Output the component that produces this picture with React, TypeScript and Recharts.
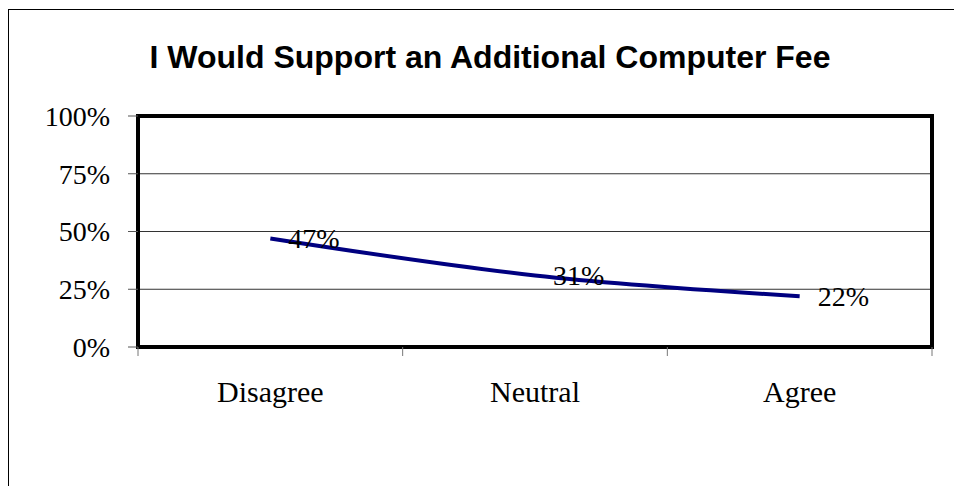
import React from 'react';
import { LineChart, Line, XAxis, YAxis, CartesianGrid, ReferenceArea, LabelList } from 'recharts';

const categories = ['Disagree', 'Neutral', 'Agree'];
const values = [47, 31, 22];
const yTicks = [0, 25, 50, 75, 100];
const title = 'I Would Support an Additional Computer Fee';

const data = categories.map((cat, i) => ({ cat, value: values[i] }));

const SERIF = "'Liberation Serif', 'Times New Roman', Times, serif";
const SANS = "'Liberation Sans', Arial, Helvetica, sans-serif";

const W = 946;
const H = 478;

const XTick = (props: any) => {
  const { x, y, payload, width, visibleTicksCount, index } = props;
  const count = visibleTicksCount || categories.length;
  const band = (width || 793) / count;
  const left = x - band / 2;
  const right = x + band / 2;
  return (
    <g>
      <line x1={left} y1={y} x2={left} y2={y + 9} stroke="#777" strokeWidth={1} />
      {index === count - 1 && (
        <line x1={right} y1={y} x2={right} y2={y + 9} stroke="#777" strokeWidth={1} />
      )}
      <text x={x} y={y + 55} textAnchor="middle" fontSize={30} fontFamily={SERIF} fill="#000">
        {payload.value}
      </text>
    </g>
  );
};

export default function App() {
  return (
    <div style={{ position: 'relative', width: W, height: H }}>
      <LineChart
        width={W}
        height={H}
        data={data}
        margin={{ top: 108, right: 22, bottom: 79, left: 0 }}
      >
        <CartesianGrid vertical={false} stroke="#333" strokeWidth={1} />
        <XAxis
          dataKey="cat"
          type="category"
          scale="band"
          interval={0}
          tickLine={false}
          axisLine={false}
          tickSize={0}
          tickMargin={0}
          height={60}
          tick={<XTick />}
        />
        <YAxis
          type="number"
          domain={[0, 100]}
          ticks={yTicks}
          width={130}
          axisLine={false}
          tickSize={10}
          tickMargin={18}
          tickLine={{ stroke: '#555', strokeWidth: 1 }}
          tickFormatter={(v: number) => `${v}%`}
          tick={{ fontSize: 28, fill: '#000', fontFamily: SERIF }}
        />
        <ReferenceArea
          y1={0}
          y2={100}
          fill="none"
          fillOpacity={0}
          stroke="#000"
          strokeWidth={4}
          ifOverflow="visible"
        />
        <Line
          type="monotone"
          dataKey="value"
          stroke="#000080"
          strokeWidth={4}
          dot={false}
          activeDot={false}
          isAnimationActive={false}
        >
          <LabelList
            dataKey="value"
            position="right"
            offset={18}
            formatter={(v: number) => `${v}%`}
            style={{ fontSize: 28, fill: '#000', fontFamily: SERIF }}
          />
        </Line>
      </LineChart>
      <svg
        width={W}
        height={H}
        style={{ position: 'absolute', left: 0, top: 0, pointerEvents: 'none', overflow: 'visible' }}
      >
        <line x1={0.5} y1={1} x2={0.5} y2={H + 8} stroke="#000" strokeWidth={1} />
        <line x1={0} y1={1.5} x2={W + 8} y2={1.5} stroke="#000" strokeWidth={1} />
        <text x={482} y={60} textAnchor="middle" fontSize={32} fontWeight="bold" fontFamily={SANS} fill="#000">
          {title}
        </text>
      </svg>
    </div>
  );
}
